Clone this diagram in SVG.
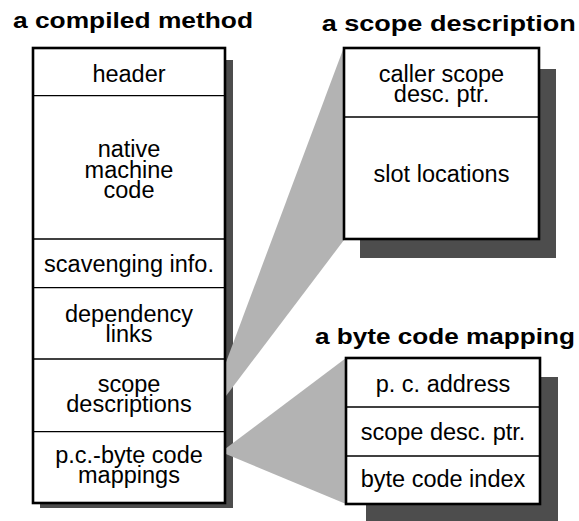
<svg xmlns="http://www.w3.org/2000/svg" width="579" height="521" viewBox="0 0 579 521">
<style>
.shadow{fill:#4d4d4d}
.callout{fill:#b3b3b3}
.box{fill:#fff;stroke:#000;stroke-width:2.6}
.div{stroke:#000;stroke-width:1.3}
.t{font-family:"Liberation Sans",Arial,Helvetica,sans-serif;font-size:23.5px;fill:#000;text-anchor:middle}
.title{font-family:"Liberation Sans",Arial,Helvetica,sans-serif;font-size:22.5px;font-weight:bold;fill:#000}
</style>
<rect width="579" height="521" fill="#fff"/>
<g id="shadows">
<rect class="shadow" x="40" y="60" width="193" height="448"/>
<rect class="shadow" x="360" y="69" width="196" height="189"/>
<rect class="shadow" x="366" y="377" width="192" height="150"/>
</g>
<g id="connectors">
<polygon class="callout" points="344,47 344,240 201,429"/>
<polygon class="callout" points="346,358 346,504 221,452"/>
</g>
<g id="compiled-method">
<text class="title" x="13" y="27.5" textLength="240" lengthAdjust="spacingAndGlyphs">a compiled method</text>
<rect class="box" x="33" y="48" width="192" height="455"/>
<line class="div" x1="33" y1="95.7" x2="225" y2="95.7"/>
<line class="div" x1="33" y1="239" x2="225" y2="239"/>
<line class="div" x1="33" y1="287.7" x2="225" y2="287.7"/>
<line class="div" x1="33" y1="359" x2="225" y2="359"/>
<line class="div" x1="33" y1="431.7" x2="225" y2="431.7"/>
<text class="t" x="129" y="81.7">header</text>
<text class="t" x="129" y="157">native</text>
<text class="t" x="129" y="177.5">machine</text>
<text class="t" x="129" y="198">code</text>
<text class="t" x="129" y="271.7">scavenging info.</text>
<text class="t" x="129" y="321.7">dependency</text>
<text class="t" x="129" y="341.7">links</text>
<text class="t" x="129" y="391.7">scope</text>
<text class="t" x="129" y="411.7">descriptions</text>
<text class="t" x="129" y="463.3">p.c.-byte code</text>
<text class="t" x="129" y="483.3">mappings</text>
</g>
<g id="scope-description">
<text class="title" x="321.7" y="31" textLength="254" lengthAdjust="spacingAndGlyphs">a scope description</text>
<rect class="box" x="344" y="48" width="195" height="191"/>
<line class="div" x1="344" y1="117" x2="539" y2="117"/>
<text class="t" x="441.5" y="81.7">caller scope</text>
<text class="t" x="441.5" y="101.7">desc. ptr.</text>
<text class="t" x="441.5" y="181.7">slot locations</text>
</g>
<g id="byte-code-mapping">
<text class="title" x="315" y="344" textLength="260" lengthAdjust="spacingAndGlyphs">a byte code mapping</text>
<rect class="box" x="346" y="358" width="194" height="146"/>
<line class="div" x1="346" y1="407" x2="540" y2="407"/>
<line class="div" x1="346" y1="456" x2="540" y2="456"/>
<text class="t" x="443" y="391.7">p. c. address</text>
<text class="t" x="443" y="440">scope desc. ptr.</text>
<text class="t" x="443" y="486.7">byte code index</text>
</g>
</svg>
